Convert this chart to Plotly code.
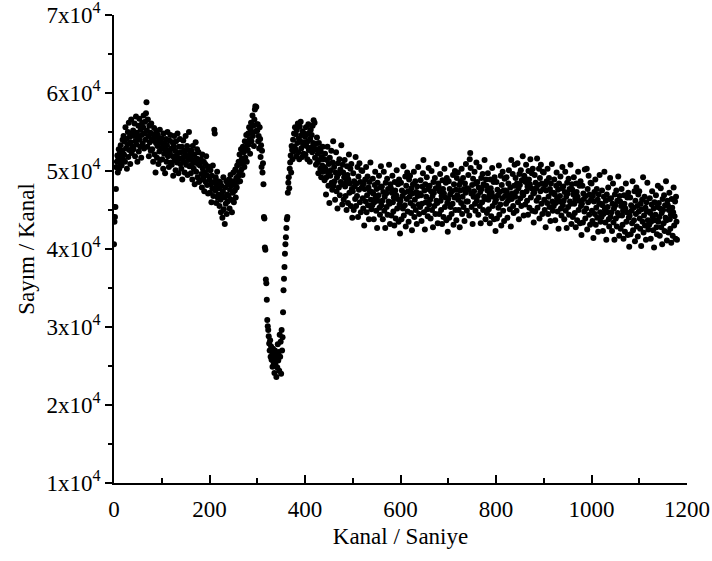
import plotly.graph_objects as go

# Counts per channel, in hundreds of counts (value x 100 = counts)
counts_000_299 = [
    406,435,441,454,477,505,512,520,498,515,528,503,522,510,533,518,507,526,540,515,
    545,521,538,512,556,529,541,503,534,550,518,562,527,544,509,537,566,523,548,531,
    552,528,545,561,519,538,570,534,549,512,543,558,525,567,540,531,553,517,546,562,
    535,556,571,529,548,563,540,574,588,552,531,566,545,519,558,537,549,526,561,540,
    528,547,512,539,555,521,544,498,536,551,517,532,546,509,541,525,553,514,537,529,
    542,515,531,503,548,522,536,497,527,541,512,533,550,519,526,505,539,523,546,511,
    529,508,537,519,494,532,545,514,526,501,538,520,511,548,523,497,531,516,541,509,
    524,503,531,489,517,539,512,526,498,521,545,508,518,532,495,527,514,550,506,521,
    518,497,526,508,489,532,514,503,521,483,511,537,499,516,528,492,509,524,486,513,
    507,488,515,496,479,521,503,491,512,474,498,509,486,519,495,482,506,471,502,493,
    489,472,501,483,460,494,478,507,468,486,553,548,475,492,459,481,499,466,487,470,
    478,455,486,463,447,481,469,440,474,492,451,466,432,479,458,487,445,470,461,483,
    468,489,452,476,495,463,481,447,487,472,498,460,484,475,502,466,491,479,507,486,
    493,512,498,521,487,509,528,502,516,495,531,511,524,505,538,517,529,546,512,535,
    527,548,534,556,541,522,553,562,538,549,571,545,558,532,566,579,583,551,582,560,
]
counts_300_399 = [
    552,560,538,545,529,556,541,518,533,505,526,498,510,483,441,439,402,399,361,356,
    335,309,301,296,288,279,270,283,262,275,258,268,249,272,255,263,241,270,252,260,
    236,265,248,278,257,268,244,290,262,281,240,296,270,287,319,347,362,377,394,406,
    415,427,438,441,472,485,492,478,503,511,520,498,532,527,515,540,525,548,531,556,
    528,547,519,553,536,561,524,542,515,557,538,563,529,546,518,551,534,522,548,537,
]
counts_400_799 = [
    544,521,556,532,547,515,538,560,527,549,512,541,553,530,546,524,558,536,565,529,
    562,517,535,508,528,543,511,522,497,536,514,529,503,525,492,518,507,531,499,515,
    505,488,522,503,470,492,514,531,498,481,509,459,517,494,501,526,485,476,511,538,
    481,505,487,463,498,524,474,492,452,510,496,479,515,469,502,486,533,483,457,508,
    498,463,492,514,480,468,486,450,506,495,459,489,521,472,484,503,455,509,477,440,
    474,497,450,487,480,464,518,455,484,468,505,441,493,476,510,460,486,447,501,479,
    500,465,452,484,430,477,489,461,505,447,469,493,456,479,438,486,474,511,463,451,
    473,456,490,471,438,460,482,499,466,449,477,427,485,462,469,494,453,444,479,506,
    456,480,462,438,473,499,449,467,427,485,471,454,490,444,477,461,508,458,432,483,
    478,443,472,494,460,448,466,430,486,475,439,469,501,452,464,483,435,489,457,420,
    462,485,438,475,468,452,506,443,472,456,493,429,481,464,498,448,474,435,489,467,
    494,459,446,478,424,471,483,455,499,441,463,487,450,473,432,480,468,505,457,445,
    471,454,488,469,436,458,480,497,514,447,475,425,483,460,467,492,451,442,477,504,
    457,481,463,439,474,500,450,468,428,486,472,455,491,445,478,462,509,459,433,484,
    480,445,474,496,462,450,468,432,488,477,441,471,503,454,466,485,437,491,459,422,
    464,487,440,477,470,454,508,445,474,458,495,431,483,466,500,450,476,437,491,469,
    498,463,450,482,428,475,487,459,503,445,467,491,454,477,436,484,472,509,461,449,
    478,461,495,476,443,515,523,504,471,454,482,432,490,467,474,499,458,449,484,511,
    462,486,468,444,479,505,455,473,433,491,477,460,496,450,483,467,514,464,438,489,
    481,446,475,497,463,451,469,433,489,478,442,472,504,455,467,486,438,492,460,423,
]
counts_800_1179 = [
    463,486,439,476,469,453,507,444,473,457,494,430,482,465,499,449,475,436,490,468,
    475,458,492,473,440,462,484,501,468,451,479,429,514,464,471,496,455,446,481,508,
    467,491,473,449,484,510,460,478,438,496,482,465,501,455,488,472,519,469,443,494,
    492,457,486,508,474,462,480,444,500,489,453,483,515,466,478,497,449,503,471,434,
    472,495,448,485,478,462,516,453,482,466,503,439,491,474,508,458,484,445,499,477,
    498,463,450,482,428,475,487,459,503,445,467,491,454,477,436,484,472,509,461,449,
    472,455,489,470,437,459,481,498,465,448,476,426,484,461,468,493,452,443,478,505,
    456,480,462,438,473,499,449,467,427,485,471,454,490,444,477,461,508,458,432,483,
    476,441,470,492,458,446,464,428,484,473,437,467,499,450,462,481,433,487,455,418,
    458,481,434,471,464,448,502,439,468,452,503,425,477,460,494,444,470,431,485,463,
    484,449,436,468,414,461,473,445,489,431,453,477,440,463,422,470,458,495,447,435,
    458,441,475,456,423,445,467,499,451,434,462,412,470,447,454,479,438,429,464,491,
    441,465,447,423,458,484,434,452,412,470,456,439,475,429,462,446,493,443,417,468,
    461,426,455,477,443,431,449,413,469,458,422,452,484,435,447,466,418,472,440,403,
    443,466,419,456,449,433,487,424,453,437,474,410,462,445,479,429,455,416,470,448,
    474,439,426,458,404,451,463,435,492,421,443,467,430,453,412,460,448,485,437,425,
    448,431,465,446,413,435,457,474,441,424,452,402,460,437,444,469,428,419,454,481,
    435,459,441,417,452,478,428,446,406,464,450,433,469,423,456,440,487,437,411,462,
    456,421,450,472,438,426,444,408,464,453,417,447,479,430,442,461,413,467,435,412,
]

counts = [v * 100 for v in (counts_000_299 + counts_300_399 + counts_400_799 + counts_800_1179)]
channels = list(range(len(counts)))

x_ticks = [0, 200, 400, 600, 800, 1000, 1200]
y_ticks = [10000, 20000, 30000, 40000, 50000, 60000, 70000]
y_tick_text = ["1x10<sup>4</sup>", "2x10<sup>4</sup>", "3x10<sup>4</sup>", "4x10<sup>4</sup>",
               "5x10<sup>4</sup>", "6x10<sup>4</sup>", "7x10<sup>4</sup>"]

FONT = "Liberation Serif, Times New Roman, serif"
FS = 23

fig = go.Figure()
fig.add_trace(go.Scatter(
    x=channels, y=counts, mode="markers",
    marker=dict(size=6, color="black", line=dict(width=0)),
    hoverinfo="x+y", showlegend=False,
))

fig.update_layout(
    width=712, height=561,
    margin=dict(l=114, r=25, t=15, b=78),
    paper_bgcolor="white", plot_bgcolor="white",
    font=dict(family=FONT, size=FS, color="black"),
)
fig.update_xaxes(
    range=[0, 1200], tickvals=x_ticks, ticktext=[str(v) for v in x_ticks],
    showgrid=False, zeroline=False, showline=True, linecolor="black", linewidth=1.5,
    ticks="inside", ticklen=8, tickwidth=1.5, tickcolor="black",
    minor=dict(dtick=100, tick0=0, ticks="inside", ticklen=5, tickwidth=1.5, tickcolor="black", showgrid=False),
    tickfont=dict(family=FONT, size=FS), ticklabeloverflow="allow", ticklabelstandoff=5,
    title=dict(text="Kanal / Saniye", font=dict(family=FONT, size=FS), standoff=7),
    automargin=False,
)
fig.update_yaxes(
    range=[10000, 70000], tickvals=y_ticks, ticktext=y_tick_text,
    showgrid=False, zeroline=False, showline=True, linecolor="black", linewidth=1.5,
    ticks="outside", ticklen=7, tickwidth=1.5, tickcolor="black",
    minor=dict(dtick=5000, tick0=10000, ticks="outside", ticklen=4, tickwidth=1.5, tickcolor="black", showgrid=False),
    tickfont=dict(family=FONT, size=FS), ticklabeloverflow="allow",
    title=dict(text="Sayım / Kanal", font=dict(family=FONT, size=FS), standoff=6),
    automargin=False,
)

# remove the page's default body margin so the figure sits at the window's top-left corner
fig.write_html("out.html", config={"displayModeBar": False},
               post_script="document.body.style.margin='0';")
